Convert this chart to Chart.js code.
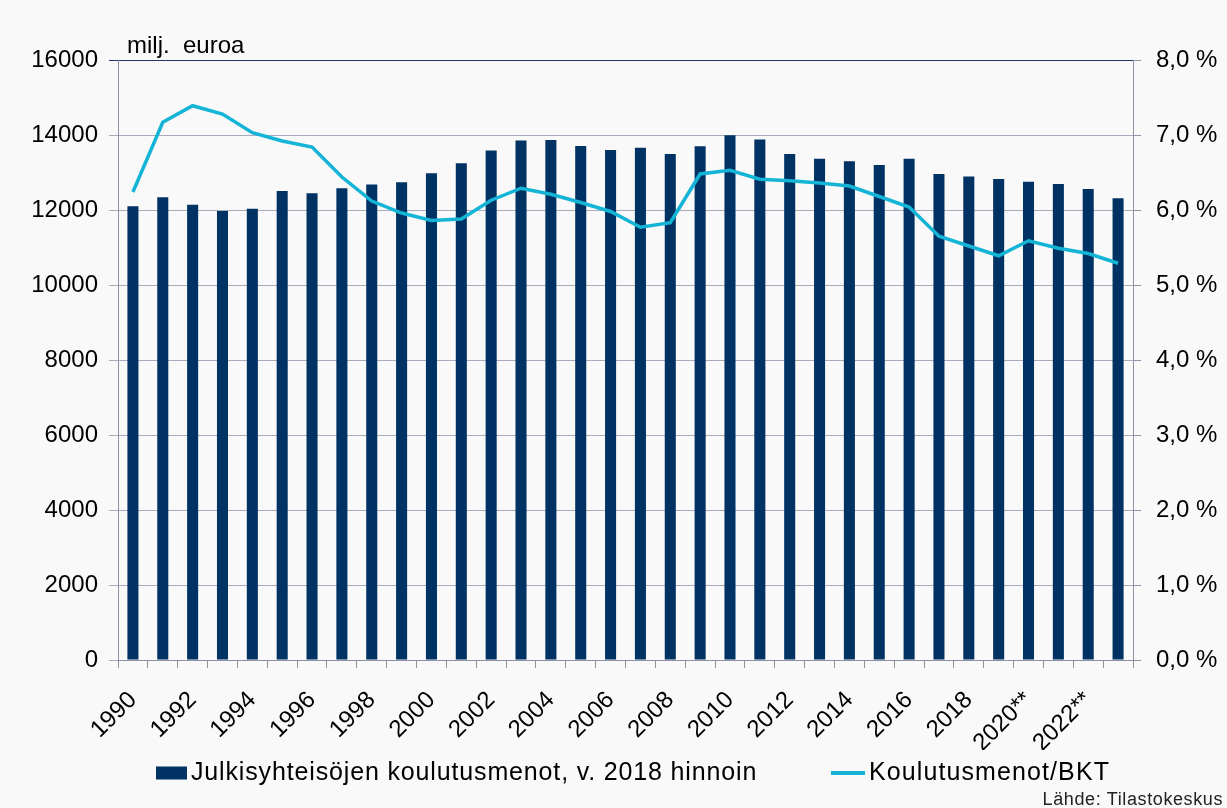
<!DOCTYPE html>
<html>
<head>
<meta charset="utf-8">
<script src="https://cdn.jsdelivr.net/npm/chart.js@4"></script>
<style>
  html, body { margin: 0; padding: 0; background: #f9f9f9; }
  #wrap { width: 1227px; height: 808px; position: relative; }
</style>
</head>
<body>
<div id="wrap"><canvas id="chart" width="1227" height="808"></canvas></div>
<script>
const years = ['1990','1991','1992','1993','1994','1995','1996','1997','1998','1999',
  '2000','2001','2002','2003','2004','2005','2006','2007','2008','2009',
  '2010','2011','2012','2013','2014','2015','2016','2017','2018','2019',
  '2020**','2021**','2022**','2023**'];
const spending = [12100, 12340, 12140, 11975, 12035, 12505, 12445, 12580, 12680, 12740,
  12980, 13245, 13585, 13855, 13865, 13705, 13600, 13660, 13495, 13700,
  13995, 13880, 13495, 13370, 13300, 13200, 13370, 12958, 12896, 12825,
  12754, 12691, 12557, 12316];
const shareOfGdp = [6.24, 7.17, 7.39, 7.28, 7.03, 6.92, 6.84, 6.44, 6.12, 5.96,
  5.86, 5.88, 6.13, 6.29, 6.21, 6.10, 5.98, 5.77, 5.83, 6.48,
  6.53, 6.41, 6.39, 6.36, 6.32, 6.18, 6.04, 5.65, 5.52, 5.39,
  5.59, 5.49, 5.42, 5.29];
const leftTicks = [0, 2000, 4000, 6000, 8000, 10000, 12000, 14000, 16000];

const font = 'Liberation Sans, Arial, sans-serif';
const gridGray = '#a9abbc';
const axisGray = '#8d90a4';

// own legend + extra texts, drawn on the canvas
const extraText = {
  id: 'extraText',
  afterDraw(chart) {
    const ctx = chart.ctx;
    const ds = chart.data.datasets;
    ctx.save();
    ctx.fillStyle = '#000';
    ctx.font = '24px ' + font;
    ctx.textBaseline = 'alphabetic';
    ctx.textAlign = 'left';
    ctx.fillText('milj.  euroa', 127, 53);

    // legend
    const ly = 773;
    ctx.fillStyle = ds[0].backgroundColor;
    ctx.fillRect(156, ly - 6.5, 31, 13);
    ctx.strokeStyle = ds[1].borderColor;
    ctx.lineWidth = 4;
    ctx.beginPath();
    ctx.moveTo(831, ly);
    ctx.lineTo(865, ly);
    ctx.stroke();
    ctx.fillStyle = '#000';
    ctx.font = '25px ' + font;
    ctx.letterSpacing = '0.85px';
    ctx.textBaseline = 'middle';
    ctx.fillText(ds[0].label, 191, ly);
    ctx.letterSpacing = '1.1px';
    ctx.fillText(ds[1].label, 869, ly);

    ctx.font = '18px ' + font;
    ctx.letterSpacing = '0.6px';
    ctx.fillStyle = '#222';
    ctx.textBaseline = 'alphabetic';
    ctx.textAlign = 'right';
    ctx.fillText('Lähde: Tilastokeskus', 1223, 805);
    ctx.restore();
  }
};

new Chart(document.getElementById('chart'), {
  type: 'bar',
  data: {
    labels: years,
    datasets: [{
      label: 'Julkisyhteisöjen koulutusmenot, v. 2018 hinnoin',
      data: spending,
      backgroundColor: '#003264',
      borderWidth: 0,
      barPercentage: 0.37,
      categoryPercentage: 1,
      yAxisID: 'y',
      order: 1
    }, {
      type: 'line',
      label: 'Koulutusmenot/BKT',
      data: shareOfGdp,
      borderColor: '#14b4d7',
      backgroundColor: '#14b4d7',
      borderWidth: 3.5,
      pointRadius: 0,
      tension: 0,
      yAxisID: 'y1',
      order: 0
    }]
  },
  options: {
    responsive: false,
    animation: false,
    layout: { padding: { top: 60, left: 0, right: 0, bottom: 58 } },
    plugins: {
      tooltip: { enabled: false },
      legend: { display: false }
    },
    scales: {
      x: {
        grid: { offset: true, drawOnChartArea: false, drawTicks: true, tickLength: 8, color: axisGray },
        border: { color: axisGray },
        ticks: {
          autoSkip: false,
          minRotation: 45,
          maxRotation: 45,
          padding: 18,
          color: '#000',
          font: { family: font, size: 24 },
          callback: (v, i) => (i % 2 === 0 ? years[i] : '')
        },
        afterFit: s => { s.height = 90; }
      },
      y: {
        position: 'left',
        min: 0,
        max: 16000,
        afterBuildTicks: s => { s.ticks = leftTicks.map(v => ({ value: v })); },
        grid: {
          tickLength: 9,
          color: c => (c.tick && c.tick.value === 16000 ? '#1f3a6a' : gridGray)
        },
        border: { color: axisGray },
        ticks: {
          padding: 11,
          color: '#000',
          font: { family: font, size: 24 },
          callback: v => String(v)
        },
        afterFit: s => { s.width = 118; }
      },
      y1: {
        position: 'right',
        min: 0,
        max: 8,
        grid: { drawOnChartArea: false, tickLength: 8, color: axisGray },
        border: { color: axisGray },
        ticks: {
          stepSize: 1,
          padding: 15,
          color: '#000',
          font: { family: font, size: 24 },
          callback: v => v.toFixed(1).replace('.', ',') + ' %'
        },
        afterFit: s => { s.width = 94; }
      }
    }
  },
  plugins: [extraText]
});
</script>
</body>
</html>
